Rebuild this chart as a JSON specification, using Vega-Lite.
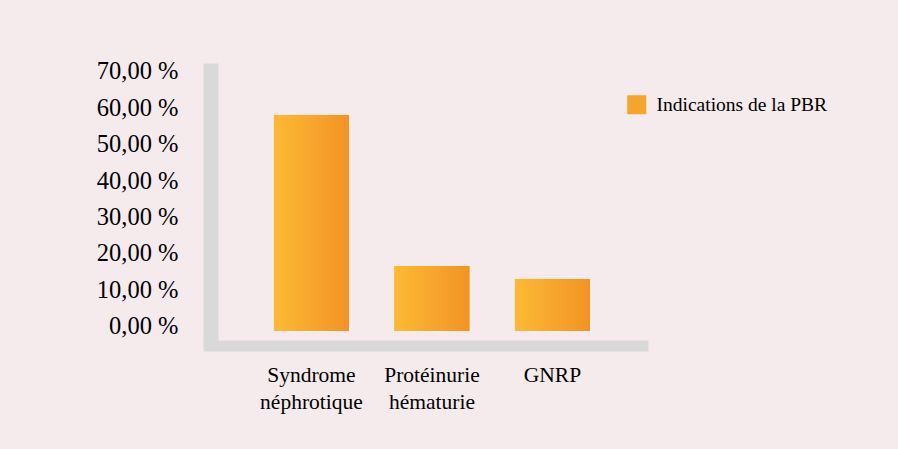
{
  "$schema": "https://vega.github.io/schema/vega-lite/v6.json",
  "width": 445,
  "height": 282.5,
  "autosize": {"type": "none"},
  "padding": {"left": 203, "top": 63, "right": 250, "bottom": 103.5},
  "background": "#f5ebec",
  "config": {"view": {"stroke": null}, "font": "Liberation Serif"},
  "data": {"values": [
    {"indication": "Syndrome néphrotique", "pct": 59.4},
    {"indication": "Protéinurie hématurie", "pct": 17.9},
    {"indication": "GNRP", "pct": 14.3}
  ]},
  "encoding": {
    "x": {
      "field": "indication", "type": "nominal", "sort": null,
      "scale": {"paddingInner": 0.3776, "paddingOuter": 0.535, "align": 0.55},
      "axis": {
        "title": null, "labelAngle": 0, "ticks": false, "tickSize": 0,
        "domainColor": "#d9d9d9", "domainWidth": 11,
        "labelExpr": "split(datum.label, ' ')",
        "labelFont": "Liberation Serif", "labelFontSize": 21.5, "labelColor": "#000000",
        "labelLineHeight": 27, "labelPadding": 19, "labelBaseline": "top"
      }
    },
    "y": {
      "field": "pct", "type": "quantitative",
      "scale": {"domain": [-3.99, 73.7], "nice": false, "zero": false},
      "axis": {
        "title": null, "grid": false, "ticks": false, "tickSize": 0,
        "values": [0, 10, 20, 30, 40, 50, 60, 70],
        "domainColor": "#d9d9d9", "domainWidth": 15, "offset": -7.5,
        "labelExpr": "replace(format(datum.value, '.2f'), '.', ',') + ' %'",
        "labelFont": "Liberation Serif", "labelFontSize": 24.5, "labelColor": "#000000",
        "labelPadding": 32.5, "labelOffset": -4.5
      }
    },
    "y2": {"datum": 0}
  },
  "layer": [
    {
      "mark": {"type": "bar"},
      "encoding": {
        "color": {
          "datum": "Indications de la PBR",
          "scale": {"range": ["#f6a52c"]},
          "legend": {
            "title": null, "orient": "none", "legendX": 424, "legendY": 32,
            "symbolType": "square", "symbolSize": 361, "symbolStrokeWidth": 0,
            "labelFont": "Liberation Serif", "labelFontSize": 19.5, "labelColor": "#000000",
            "labelOffset": 10, "labelLimit": 400, "padding": 0,
            "encode": {"symbols": {"update": {"fill": {"value": {"gradient": "linear", "x1": 0, "x2": 1, "y1": 0, "y2": 0,
              "stops": [{"offset": 0, "color": "#fcba34"}, {"offset": 1, "color": "#f29325"}]}}}}}
          }
        }
      }
    },
    {
      "mark": {"type": "bar", "color": {"gradient": "linear", "x1": 0, "x2": 1, "y1": 0, "y2": 0,
        "stops": [{"offset": 0, "color": "#fcba34"}, {"offset": 1, "color": "#f29325"}]}}
    }
  ]
}
